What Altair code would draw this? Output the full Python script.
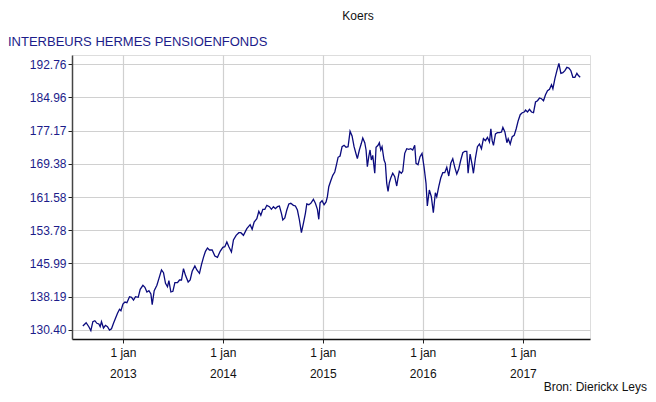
import altair as alt
import pandas as pd

# decimal-year positions of the weekly quotes
years = [
    2012.600, 2012.633, 2012.660, 2012.680, 2012.700, 2012.720, 2012.740, 2012.760, 2012.773, 2012.786,
    2012.806, 2012.826, 2012.846, 2012.866, 2012.886, 2012.906, 2012.926, 2012.946, 2012.966, 2012.980,
    2013.000, 2013.020, 2013.040, 2013.066, 2013.086, 2013.106, 2013.126, 2013.153, 2013.173, 2013.200,
    2013.220, 2013.240, 2013.260, 2013.280, 2013.293, 2013.313, 2013.340, 2013.360, 2013.386, 2013.406,
    2013.426, 2013.446, 2013.460, 2013.480, 2013.500, 2013.520, 2013.546, 2013.566, 2013.586, 2013.606,
    2013.626, 2013.653, 2013.673, 2013.693, 2013.720, 2013.740, 2013.766, 2013.786, 2013.806, 2013.826,
    2013.846, 2013.866, 2013.893, 2013.920, 2013.946, 2013.973, 2014.000, 2014.020, 2014.040, 2014.060,
    2014.086, 2014.106, 2014.133, 2014.160, 2014.180, 2014.206, 2014.240, 2014.273, 2014.293, 2014.313,
    2014.340, 2014.360, 2014.380, 2014.400, 2014.420, 2014.440, 2014.466, 2014.486, 2014.506, 2014.526,
    2014.546, 2014.566, 2014.586, 2014.600, 2014.620, 2014.640, 2014.660, 2014.680, 2014.706, 2014.726,
    2014.746, 2014.766, 2014.786, 2014.806, 2014.826, 2014.840, 2014.860, 2014.880, 2014.906, 2014.926,
    2014.946, 2014.960, 2014.973, 2014.993, 2015.013, 2015.033, 2015.046, 2015.060, 2015.080, 2015.100,
    2015.120, 2015.140, 2015.153, 2015.173, 2015.193, 2015.213, 2015.233, 2015.253, 2015.273, 2015.293,
    2015.313, 2015.333, 2015.346, 2015.366, 2015.386, 2015.400, 2015.420, 2015.433, 2015.446, 2015.460,
    2015.473, 2015.486, 2015.500, 2015.520, 2015.533, 2015.553, 2015.566, 2015.580, 2015.593, 2015.613,
    2015.626, 2015.640, 2015.653, 2015.666, 2015.680, 2015.700, 2015.720, 2015.740, 2015.753, 2015.766,
    2015.786, 2015.800, 2015.820, 2015.840, 2015.860, 2015.880, 2015.900, 2015.920, 2015.933, 2015.953,
    2015.973, 2015.993, 2016.013, 2016.033, 2016.046, 2016.066, 2016.086, 2016.106, 2016.126, 2016.140,
    2016.160, 2016.180, 2016.200, 2016.220, 2016.240, 2016.260, 2016.280, 2016.300, 2016.320, 2016.340,
    2016.360, 2016.380, 2016.400, 2016.420, 2016.440, 2016.453, 2016.473, 2016.493, 2016.506, 2016.526,
    2016.546, 2016.566, 2016.586, 2016.606, 2016.626, 2016.646, 2016.666, 2016.680, 2016.693, 2016.706,
    2016.726, 2016.746, 2016.766, 2016.786, 2016.800, 2016.820, 2016.840, 2016.853, 2016.873, 2016.893,
    2016.913, 2016.933, 2016.953, 2016.973, 2016.993, 2017.013, 2017.026, 2017.046, 2017.066, 2017.086,
    2017.106, 2017.126, 2017.146, 2017.166, 2017.186, 2017.206, 2017.226, 2017.246, 2017.266, 2017.286,
    2017.300, 2017.320, 2017.340, 2017.360, 2017.380, 2017.400, 2017.420, 2017.440, 2017.460, 2017.480,
    2017.500, 2017.520, 2017.540, 2017.553, 2017.573,
]

koers = [
    131.34, 132.11, 131.17, 130.24, 132.35, 132.58, 131.97, 131.81, 131.17, 132.35,
    130.87, 131.50, 131.17, 130.40, 130.70, 131.97, 133.14, 134.31, 135.25, 134.92,
    136.50, 136.96, 136.80, 138.21, 138.07, 137.43, 138.21, 138.07, 139.94, 140.88,
    140.41, 139.31, 139.61, 138.84, 136.33, 139.61, 140.88, 142.43, 144.47, 143.83,
    141.35, 140.55, 141.96, 139.31, 139.47, 141.49, 141.49, 142.12, 142.12, 144.77,
    143.22, 141.65, 142.12, 144.16, 145.40, 144.47, 143.69, 145.71, 147.44, 148.85,
    149.62, 149.15, 149.15, 147.75, 147.44, 148.85, 149.79, 149.93, 151.03, 149.93,
    148.69, 151.50, 152.60, 153.21, 153.21, 152.60, 154.15, 155.09, 154.01, 155.72,
    156.49, 158.23, 157.29, 158.70, 158.70, 159.63, 159.31, 158.70, 159.31, 158.84,
    159.31, 159.47, 157.76, 156.19, 156.66, 158.53, 159.94, 160.10, 159.63, 159.47,
    158.53, 156.19, 153.21, 155.41, 157.76, 159.94, 159.77, 160.10, 161.04, 160.10,
    158.70, 156.35, 160.24, 160.71, 159.77, 160.41, 161.65, 163.99, 165.40, 166.67,
    167.44, 169.48, 170.89, 171.19, 173.37, 173.70, 173.23, 173.37, 176.98, 175.88,
    173.37, 171.66, 170.56, 172.60, 174.17, 175.41, 174.31, 172.60, 168.68, 171.03,
    172.60, 170.25, 171.35, 167.14, 173.23, 173.70, 174.31, 172.60, 173.37, 170.25,
    169.48, 164.79, 162.92, 164.93, 166.03, 167.14, 166.34, 164.16, 166.03, 167.60,
    167.14, 167.60, 171.82, 172.90, 172.76, 172.90, 172.60, 173.70, 169.48, 169.15,
    171.03, 171.82, 168.68, 164.79, 159.47, 163.22, 161.65, 157.90, 162.59, 161.65,
    163.99, 166.03, 167.28, 167.28, 168.54, 166.50, 169.48, 170.56, 168.54, 166.97,
    168.21, 170.25, 171.96, 172.29, 172.29, 167.14, 171.66, 169.15, 167.14, 170.72,
    173.37, 174.00, 172.90, 175.25, 174.78, 175.57, 174.47, 177.59, 174.78, 173.70,
    176.35, 176.65, 176.65, 176.82, 177.92, 176.82, 174.31, 175.25, 174.00, 175.72,
    176.04, 177.59, 179.47, 180.87, 181.34, 181.51, 181.97, 181.51, 182.14, 181.51,
    181.34, 183.85, 184.16, 184.79, 184.62, 184.16, 185.56, 186.50, 186.83, 187.91,
    186.97, 189.31, 191.19, 192.92, 190.58, 190.72, 191.19, 191.98, 191.82, 191.19,
    189.64, 189.64, 190.58, 190.11, 189.64,
]

y_ticks = [130.40, 138.19, 145.99, 153.78, 161.58, 169.38, 177.17, 184.96, 192.76]
x_tick_years = [2013, 2014, 2015, 2016, 2017]

title_main = "Koers"
title_series = "INTERBEURS HERMES PENSIOENFONDS"
source_text = "Bron: Dierickx Leys"


def to_date(t):
    y = int(t)
    start = pd.Timestamp(year=y, month=1, day=1)
    end = pd.Timestamp(year=y + 1, month=1, day=1)
    return start + (end - start) * (t - y)


dates = [to_date(t).strftime("%Y-%m-%dT%H:%M:%S") for t in years]
df = pd.DataFrame({"datum": dates, "koers": koers})

NAVY = "#1c1c8a"
LINE = "#0b0b7e"
FONT = "Liberation Sans"

line = alt.Chart(df).mark_line(color=LINE, strokeWidth=1.3).encode(
    x=alt.X(
        "datum:T",
        scale=alt.Scale(domain=[alt.DateTime(year=2012, month=6, date=29),
                                alt.DateTime(year=2017, month=9, date=3)]),
        axis=alt.Axis(
            values=[alt.DateTime(year=y, month=1, date=1) for y in x_tick_years],
            labelExpr="['1 jan', timeFormat(datum.value, '%Y')]",
            title=None,
            grid=True,
            gridColor="#d0d0d0",
            gridWidth=1.2,
            tickSize=4,
            tickColor="#222222",
            domainColor="#111111",
            domainWidth=1.5,
            labelColor="#111111",
            labelFontSize=12,
            labelFont=FONT,
            labelPadding=4,
            labelLineHeight=21,
            labelBaseline="top",
        ),
    ),
    y=alt.Y(
        "koers:Q",
        scale=alt.Scale(domain=[128.29, 194.87], nice=False, zero=False),
        axis=alt.Axis(
            values=y_ticks,
            format=".2f",
            title=None,
            grid=True,
            gridColor="#d0d0d0",
            gridWidth=1.2,
            tickSize=4,
            tickColor="#222222",
            domainColor="#444444",
            domainWidth=1.5,
            labelColor=NAVY,
            labelFontSize=12,
            labelFont=FONT,
            labelPadding=2,
        ),
    ),
)

one = alt.Data(values=[{"k": 1}])

t_main = alt.Chart(one).mark_text(
    text=title_main, font=FONT, fontSize=12, color="#111111", align="center", baseline="middle"
).encode(x=alt.value(286), y=alt.value(-39))

t_series = alt.Chart(one).mark_text(
    text=title_series, font=FONT, fontSize=13, color=NAVY, align="left", baseline="middle"
).encode(x=alt.value(-64), y=alt.value(-13))

t_source = alt.Chart(one).mark_text(
    text=source_text, font=FONT, fontSize=12, color="#111111", align="right", baseline="bottom"
).encode(x=alt.value(575), y=alt.value(339))

chart = alt.layer(line, t_main, t_series, t_source).properties(
    width=518,
    height=284,
    autosize=alt.AutoSizeParams(type="none"),
    padding={"left": 64, "top": 47, "right": 58, "bottom": 55},
).configure_view(
    stroke="#444444", strokeWidth=1.5
).configure(
    background="white"
)

chart.save("out.html", embed_options={"renderer": "svg", "actions": False})
